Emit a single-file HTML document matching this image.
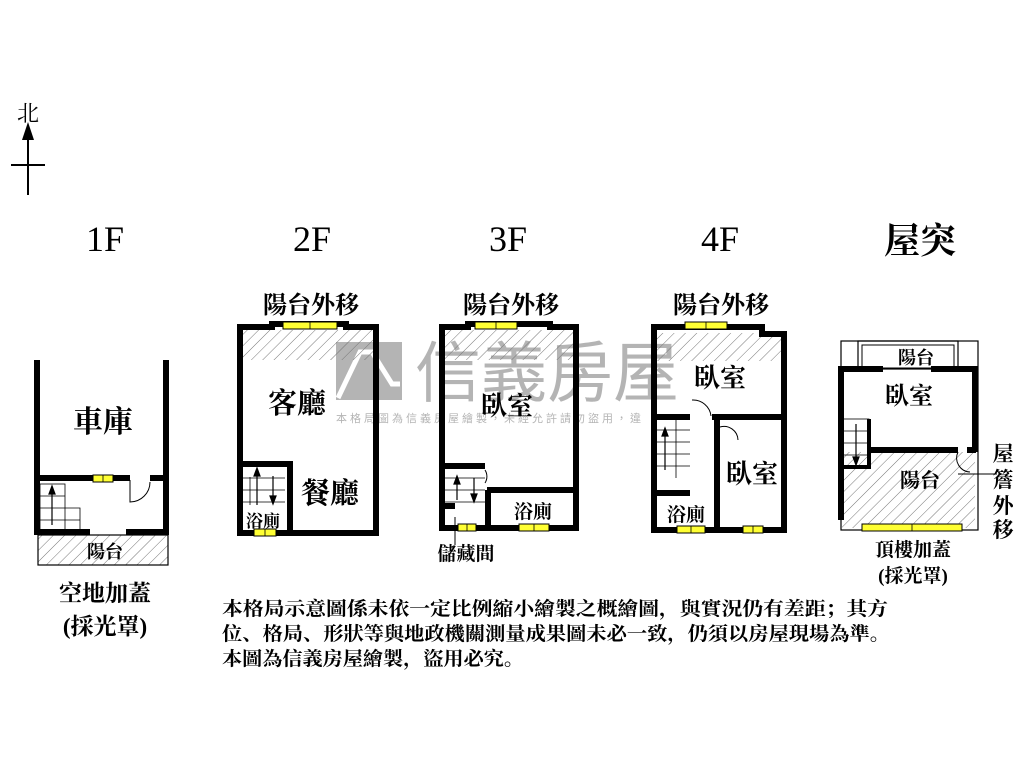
<!DOCTYPE html>
<html><head><meta charset="utf-8"><style>html,body{margin:0;padding:0;background:#fff}svg{display:block}text{font-family:"Liberation Serif","Noto Serif CJK SC","Noto Sans CJK TC",serif;fill:#000}</style></head><body>
<svg width="1024" height="768" viewBox="0 0 1024 768" xmlns="http://www.w3.org/2000/svg">
<defs>
<pattern id="h" width="8" height="8" patternUnits="userSpaceOnUse" patternTransform="rotate(45)"><line x1="0" y1="0" x2="0" y2="8" stroke="#777" stroke-width="1"/></pattern>
</defs>
<text x="28" y="121" font-size="22" text-anchor="middle">北</text>
<line x1="28" y1="135" x2="28" y2="195" stroke="#000" stroke-width="2"/>
<polygon points="28,122 22,140 34,140" fill="#000"/>
<line x1="11" y1="165" x2="45" y2="165" stroke="#000" stroke-width="2"/>
<g font-size="36" text-anchor="middle">
<text x="105" y="251">1F</text><text x="312" y="251">2F</text><text x="508" y="251">3F</text><text x="720" y="251">4F</text><text x="920" y="253" font-weight="bold">屋突</text>
</g>
<g font-size="24" text-anchor="middle" font-weight="bold">
<text x="311" y="313">陽台外移</text><text x="511" y="313">陽台外移</text><text x="721" y="313">陽台外移</text>
</g>
<g opacity="0.55">
<rect x="336" y="342" width="66" height="58" fill="#777"/>
<path d="M338 398 L360 352 L372 352 L392 384 L400 384" stroke="#fff" stroke-width="5" fill="none"/>
<text x="415" y="396" font-size="66" style="fill:#777;font-family:'Noto Sans CJK TC',sans-serif">信義房屋</text>
<text x="336" y="422" font-size="11" style="fill:#777;font-family:'Noto Sans CJK TC',sans-serif" letter-spacing="3">本格局圖為信義房屋繪製，未經允許請勿盜用，違</text>
</g>
<g fill="none" stroke="#000">
<rect x="38" y="535" width="130" height="30" fill="url(#h)" stroke-width="1.2"/>
<line x1="37" y1="360" x2="37" y2="535" stroke-width="6"/>
<line x1="166" y1="360" x2="166" y2="535" stroke-width="6"/>
<line x1="37" y1="478" x2="130" y2="478" stroke-width="6"/>
<line x1="150" y1="478" x2="166" y2="478" stroke-width="6"/>
<line x1="37" y1="532" x2="90" y2="532" stroke-width="6"/>
<line x1="126" y1="532" x2="166" y2="532" stroke-width="6"/>
<path d="M130 480 L130 502 A20 20 0 0 0 150 482" stroke-width="1"/>
<rect x="40" y="484" width="25" height="46" stroke-width="0.8"/>
<path d="M40 496H65M40 508H65M40 520H80M65 508H80V530" stroke-width="0.8"/>
<rect x="240" y="330" width="136" height="30" fill="url(#h)" stroke="none"/>
<path d="M240 533 V327 H272 V324 H346 V327 H376 V533 Z" stroke-width="6"/>
<path d="M240 464 H290 V533" stroke-width="6"/>
<path d="M242 478H285M242 490H285M242 502H285" stroke-width="0.8"/>
<line x1="250" y1="477" x2="250" y2="505" stroke-width="0.8"/>
<rect x="442" y="330" width="134" height="30" fill="url(#h)" stroke="none"/>
<path d="M442 528 V327 H468 V324 H550 V327 H576 V528 Z" stroke-width="6"/>
<path d="M442 466 H485 M487 490 H576 M488 490 V528" stroke-width="6"/>
<path d="M442 506 H455" stroke-width="6"/>
<path d="M444 478H485M444 490H485M444 502H485" stroke-width="0.8"/>
<path d="M485 470 A12 12 0 0 1 485 483" stroke-width="1"/>
<line x1="455" y1="517" x2="455" y2="545" stroke-width="1"/>
<rect x="654" y="333" width="130" height="28" fill="url(#h)" stroke="none"/>
<path d="M654 530 V327 H762 V334 H784 V530 Z" stroke-width="6"/>
<path d="M654 417 H690 M712 417 H784 M717 417 V530 M654 493 H690" stroke-width="6"/>
<path d="M656 430H690M656 442H690M656 454H690M656 466H690" stroke-width="0.8"/>
<line x1="676" y1="420" x2="676" y2="478" stroke-width="0.8"/>
<path d="M692 400 A18 18 0 0 1 711 416" stroke-width="1"/>
<path d="M720 427 A14 14 0 0 1 738 440" stroke-width="1"/>
<rect x="841" y="341" width="137" height="189" stroke-width="1.2"/>
<rect x="858" y="341" width="100" height="28" stroke-width="1.2"/>
<rect x="862" y="345" width="92" height="23" stroke-width="1"/>
<rect x="842" y="452" width="133" height="76" fill="url(#h)" stroke="none"/>
<path d="M841 520 V369 H883 M931 369 H975 V452" stroke-width="6"/>
<path d="M870 450 H958 M967 450 H976" stroke-width="6"/>
<rect x="843" y="419" width="26" height="48" stroke-width="0.8"/>
<path d="M843 431H869M843 443H869M843 455H869" stroke-width="0.8"/>
<path d="M869 419 V467 H841" stroke-width="4"/>
<path d="M958 452 A14 14 0 0 0 970 472" stroke-width="1"/>
<line x1="958" y1="474" x2="997" y2="474" stroke-width="1"/>
</g>
<g stroke="#000" stroke-width="1.2" fill="#000">
<line x1="52" y1="525" x2="52" y2="490"/><polygon points="52,486 49,494 55,494"/>
<line x1="257" y1="505" x2="257" y2="472"/><polygon points="257,468 254,476 260,476"/>
<line x1="273" y1="476" x2="273" y2="500"/><polygon points="273,504 270,496 276,496"/>
<line x1="457" y1="500" x2="457" y2="480"/><polygon points="457,476 454,484 460,484"/>
<line x1="474" y1="478" x2="474" y2="498"/><polygon points="474,502 471,494 477,494"/>
<line x1="665" y1="434" x2="665" y2="470" /><polygon points="665,428 662,436 668,436"/>
<line x1="856" y1="424" x2="856" y2="460"/><polygon points="856,465 853,457 859,457"/>
</g>
<g fill="#ff3" stroke="#000" stroke-width="1">
<rect x="93" y="475" width="20" height="7"/>
<rect x="283" y="322" width="54" height="7"/>
<rect x="254" y="529" width="22" height="7"/>
<rect x="475" y="322" width="42" height="7"/>
<rect x="458" y="524" width="18" height="7"/>
<rect x="519" y="524" width="30" height="7"/>
<rect x="685" y="322" width="42" height="7"/>
<rect x="677" y="526" width="28" height="7"/>
<rect x="743" y="526" width="20" height="7"/>
<rect x="862" y="524" width="100" height="7"/>
</g>
<g stroke="#000" stroke-width="0.8">
<line x1="103" y1="475" x2="103" y2="482"/><line x1="310" y1="322" x2="310" y2="329"/><line x1="265" y1="529" x2="265" y2="536"/>
<line x1="496" y1="322" x2="496" y2="329"/><line x1="467" y1="524" x2="467" y2="531"/><line x1="534" y1="524" x2="534" y2="531"/>
<line x1="706" y1="322" x2="706" y2="329"/><line x1="691" y1="526" x2="691" y2="533"/><line x1="753" y1="526" x2="753" y2="533"/>
<line x1="912" y1="524" x2="912" y2="531"/>
</g>
<g text-anchor="middle" font-weight="bold">
<text x="103" y="432" font-size="30">車庫</text>
<text x="105" y="558" font-size="18">陽台</text>
<text x="297" y="413" font-size="29">客廳</text>
<text x="330" y="503" font-size="29">餐廳</text>
<text x="263" y="527" font-size="17">浴廁</text>
<text x="507" y="415" font-size="26">臥室</text>
<text x="533" y="518" font-size="19">浴廁</text>
<text x="466" y="560" font-size="19">儲藏間</text>
<text x="720" y="387" font-size="26">臥室</text>
<text x="752" y="483" font-size="26">臥室</text>
<text x="686" y="521" font-size="19">浴廁</text>
<text x="916" y="364" font-size="18">陽台</text>
<text x="909" y="404" font-size="24">臥室</text>
<text x="920" y="487" font-size="20">陽台</text>
<text x="913" y="556" font-size="19">頂樓加蓋</text>
<text x="913" y="582" font-size="19">(採光罩)</text>
<text x="1003" y="461" font-size="21">屋</text>
<text x="1003" y="487" font-size="21">簷</text>
<text x="1003" y="513" font-size="21">外</text>
<text x="1003" y="537" font-size="21">移</text>
<text x="105" y="601" font-size="23">空地加蓋</text>
<text x="105" y="634" font-size="23">(採光罩)</text>
</g>
<g font-size="19" font-weight="bold">
<text x="222" y="615" textLength="666" lengthAdjust="spacingAndGlyphs">本格局示意圖係未依一定比例縮小繪製之概繪圖，與實況仍有差距；其方</text>
<text x="222" y="640" textLength="668" lengthAdjust="spacingAndGlyphs">位、格局、形狀等與地政機關測量成果圖未必一致，仍須以房屋現場為準。</text>
<text x="222" y="665" textLength="302" lengthAdjust="spacingAndGlyphs">本圖為信義房屋繪製，盜用必究。</text>
</g>
</svg>
</body></html>
